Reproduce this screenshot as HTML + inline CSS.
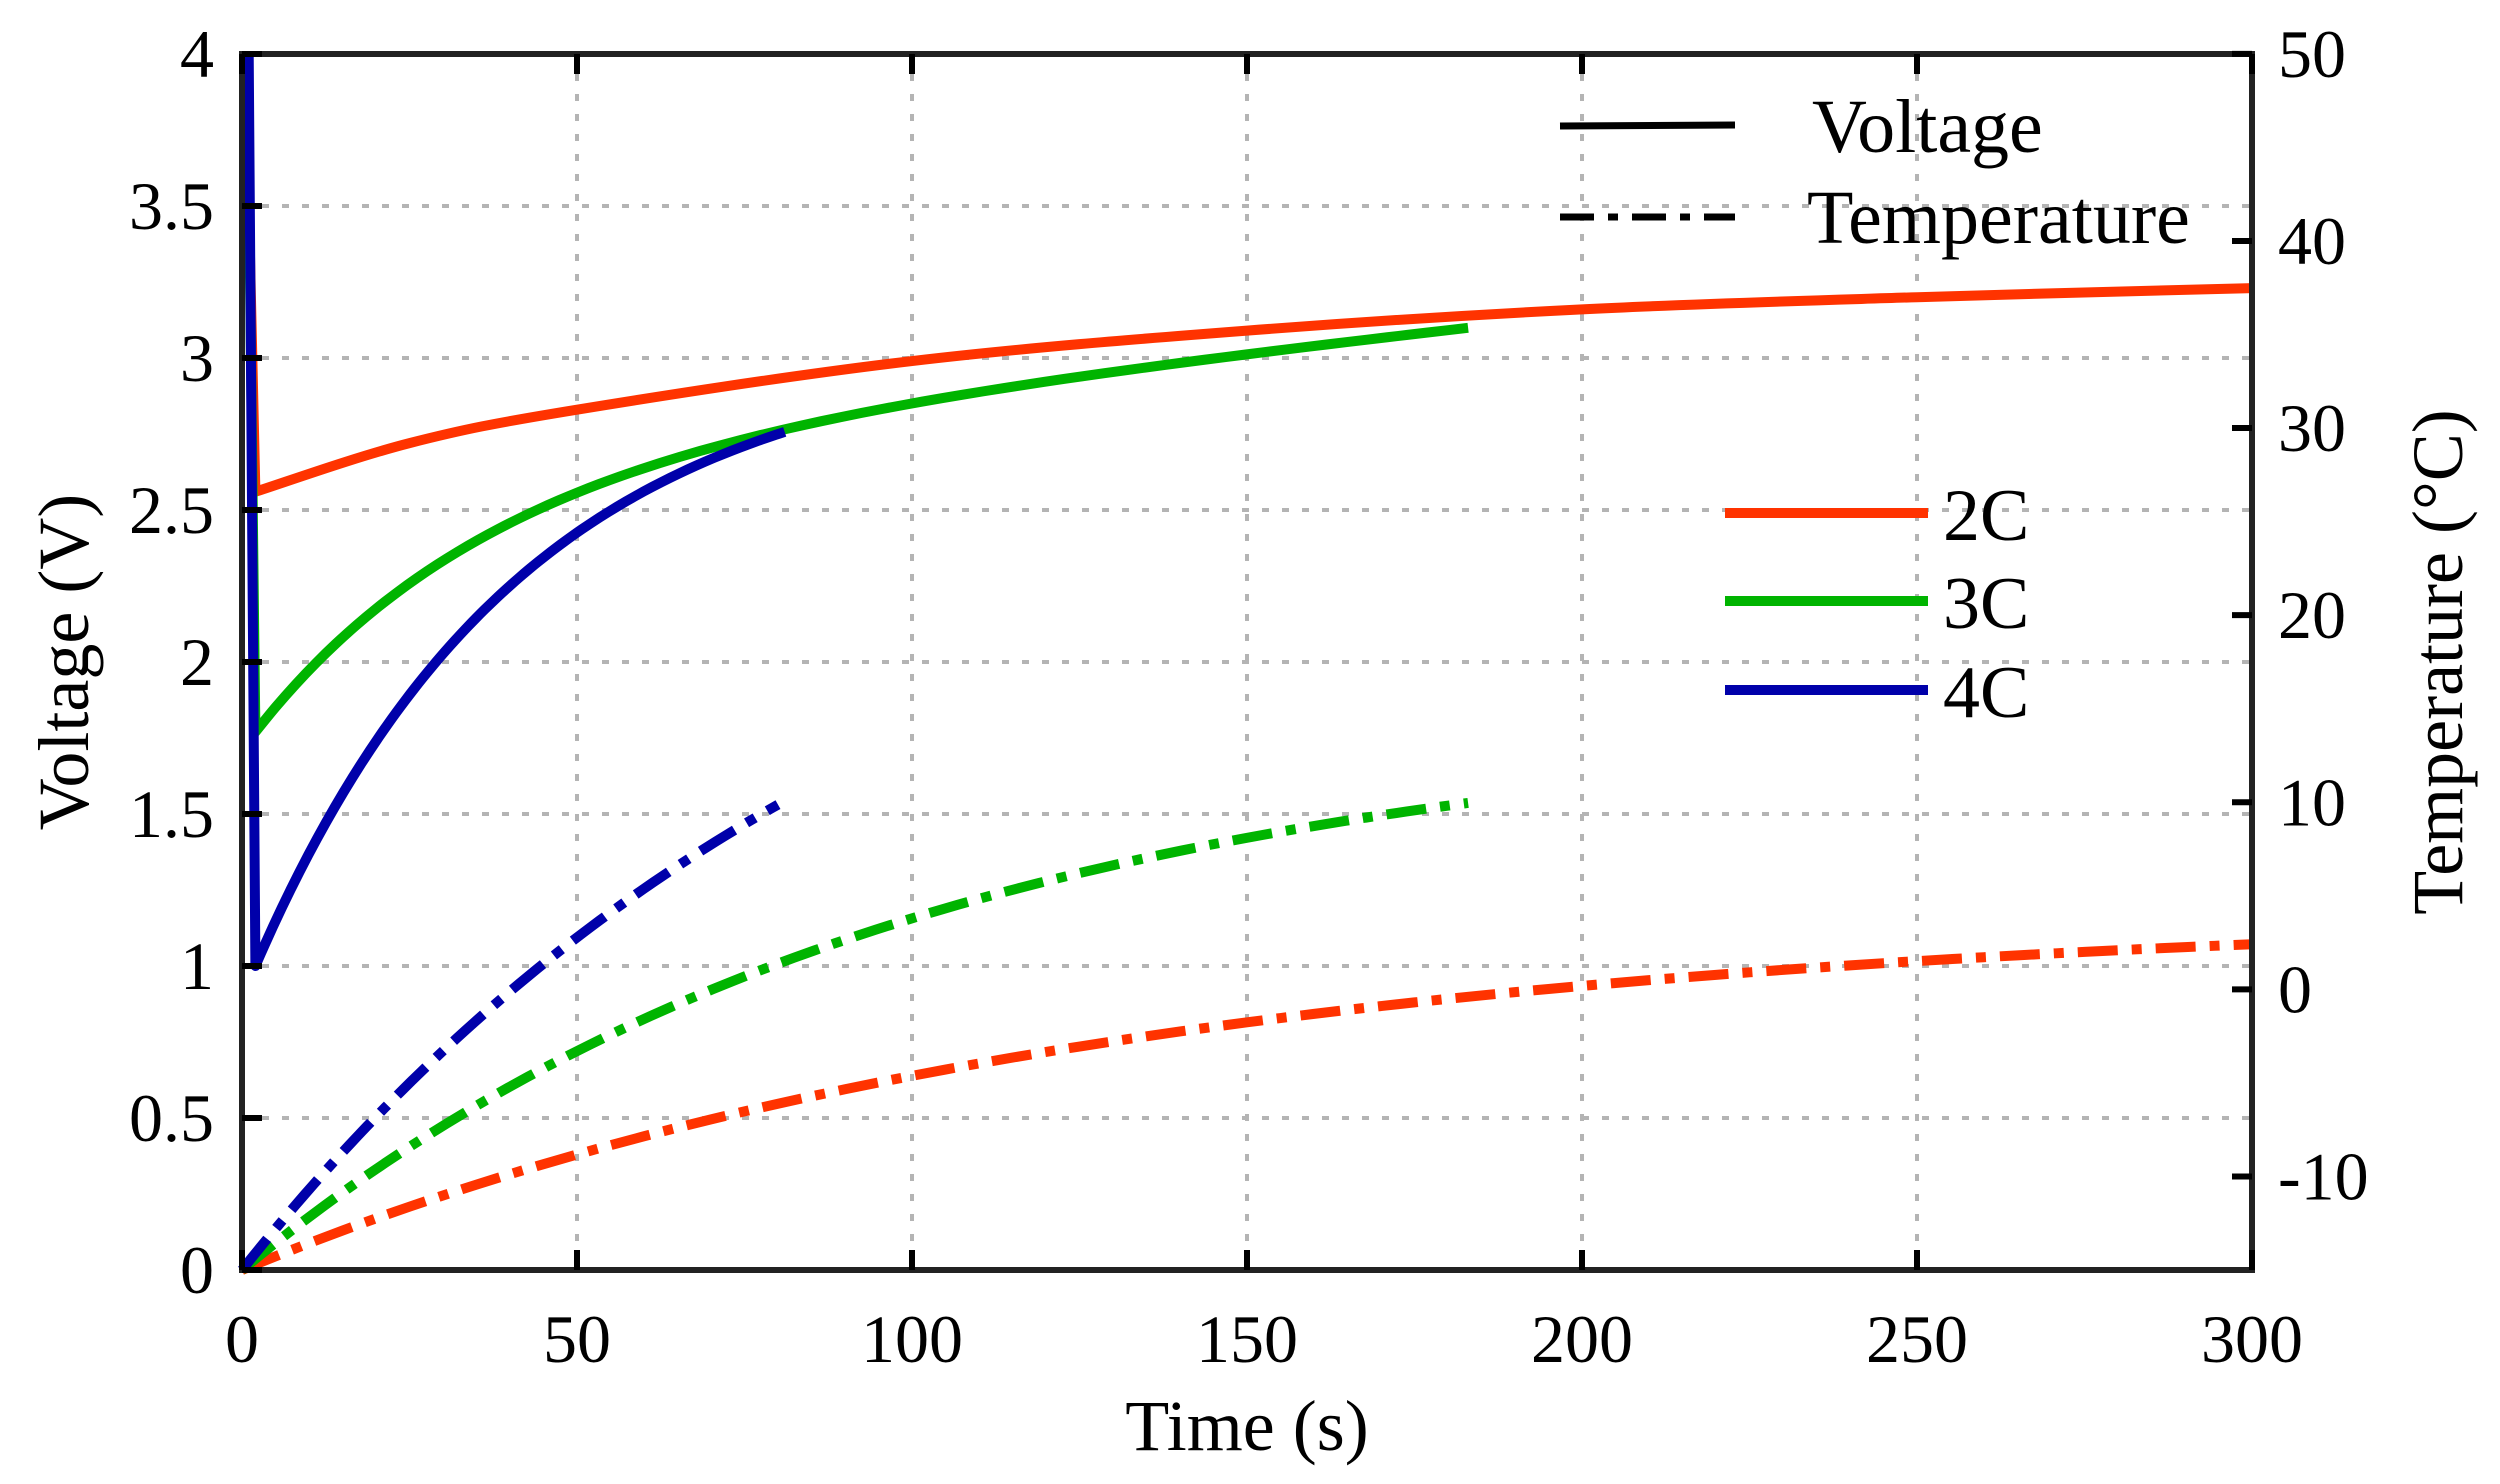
<!DOCTYPE html>
<html><head><meta charset="utf-8"><style>
html,body{margin:0;padding:0;background:#fff;}
svg{display:block;}
text{font-family:"Liberation Serif",serif;fill:#000;}
</style></head><body>
<svg id="s" width="2500" height="1484" viewBox="0 0 2500 1484" xmlns="http://www.w3.org/2000/svg">
<g id="grid" stroke="#b4b4b4" stroke-width="4" stroke-dasharray="7 13"></g>
<g id="curves" fill="none" stroke-width="10" stroke-linejoin="round"></g>
<rect x="242" y="54" width="2010" height="1216" fill="none" stroke="#222" stroke-width="6"/>
<g id="ticks" stroke="#000" stroke-width="6"></g>
<g id="labels" font-size="68"></g>
<text x="1247" y="1450" font-size="72" text-anchor="middle" fill="#222">Time (s)</text>
<text transform="translate(88,662) rotate(-90)" font-size="72" text-anchor="middle">Voltage (V)</text>
<text transform="translate(2462,662) rotate(-90)" font-size="72" text-anchor="middle">Temperature (°C)</text>
<line x1="1560" y1="126" x2="1735" y2="125" stroke="#000" stroke-width="7"/>
<text x="1812" y="152" font-size="76">Voltage</text>
<line x1="1560" y1="217" x2="1735" y2="217" stroke="#000" stroke-width="7" stroke-dasharray="34 14 10 14"/>
<text x="1807" y="243" font-size="76">Temperature</text>
<line x1="1725" y1="513" x2="1928" y2="513" stroke="#ff3300" stroke-width="10"/>
<line x1="1725" y1="601" x2="1928" y2="601" stroke="#00b400" stroke-width="10"/>
<line x1="1725" y1="690" x2="1928" y2="690" stroke="#0000aa" stroke-width="10"/>
<text x="1943" y="540" font-size="74">2C</text>
<text x="1943" y="628" font-size="74">3C</text>
<text x="1943" y="717" font-size="74">4C</text>
</svg>
<script>
var NS="http://www.w3.org/2000/svg";
function X(t){return 242+t*6.7;}
function Y(v){return 1270-v*304;}
function el(p,tag,a,txt){var e=document.createElementNS(NS,tag);for(var k in a)e.setAttribute(k,a[k]);if(txt!=null)e.textContent=txt;document.getElementById(p).appendChild(e);}
for(var i=1;i<6;i++){var x=X(i*50);el('grid','line',{x1:x,y1:54,x2:x,y2:1270});}
for(var i=1;i<8;i++){var y=Y(i*0.5);el('grid','line',{x1:242,y1:y,x2:2252,y2:y});}
for(var i=0;i<=6;i++){var x=X(i*50);el('ticks','line',{x1:x,y1:1270,x2:x,y2:1250});el('ticks','line',{x1:x,y1:54,x2:x,y2:74});
 el('labels','text',{x:x,y:1362,'text-anchor':'middle',fill:'#222'},String(i*50));}
var yl=['0','0.5','1','1.5','2','2.5','3','3.5','4'];
for(var i=0;i<=8;i++){var y=Y(i*0.5);el('ticks','line',{x1:242,y1:y,x2:262,y2:y});
 el('labels','text',{x:214,y:y+23,'text-anchor':'end'},yl[i]);}
for(var T=-10;T<=50;T+=10){var y=1270-(T+15)*18.71;el('ticks','line',{x1:2252,y1:y,x2:2232,y2:y});
 el('labels','text',{x:2278,y:y+23},String(T));}
function cr(pts){var d='M'+X(pts[0][0])+' '+Y(pts[0][1]);
 for(var i=0;i<pts.length-1;i++){var p0=pts[Math.max(0,i-1)],p1=pts[i],p2=pts[i+1],p3=pts[Math.min(pts.length-1,i+2)];
  var a=[X(p0[0]),Y(p0[1])],b=[X(p1[0]),Y(p1[1])],c=[X(p2[0]),Y(p2[1])],e=[X(p3[0]),Y(p3[1])];
  d+=' C'+(b[0]+(c[0]-a[0])/6)+' '+(b[1]+(c[1]-a[1])/6)+' '+(c[0]-(e[0]-b[0])/6)+' '+(c[1]-(e[1]-b[1])/6)+' '+c[0]+' '+c[1];}
 return d;}
function path(pts,col,dash,pre){var d=cr(pts);if(pre)d='M'+X(pre[0][0])+' '+Y(pre[0][1])+' L'+X(pre[1][0])+' '+Y(pre[1][1])+' L'+d.slice(1);
 var a={d:d,stroke:col};if(dash)a['stroke-dasharray']=dash;el('curves','path',a);}
function fn(f,t0,t1){var p=[];for(var t=t0;t<=t1+1e-9;t+=(t1-t0)/60)p.push([t,f(t)]);return p;}
var R='#ff3300',G='#00b400',B='#0000aa';
var dd='40 14 10 14';
path(fn(function(t){return 1.19*(1-Math.exp(-t/130));},0,300),R,dd);
path(fn(function(t){return 1.83*(1-Math.exp(-t/100));},0,183),G,dd);
path(fn(function(t){return 2.78*(1-Math.exp(-t/100));},0,80),B,dd);
path([[2,2.56],[25,2.72],[50,2.83],[100,2.99],[150,3.09],[200,3.16],[250,3.2],[300,3.23]],R,null,[[0.5,4],[2,2.56]]);
path(fn(function(t){var s=t-2;return 1.77+0.9*(1-Math.exp(-s/35))+0.0024*s;},2,183),G,null,[[0.8,4],[2,1.77]]);
path(fn(function(t){return 1.0+2.04*(1-Math.exp(-(t-2)/40));},2,81),B,null,[[1,4],[2,1.0]]);
</script>
</body></html>
